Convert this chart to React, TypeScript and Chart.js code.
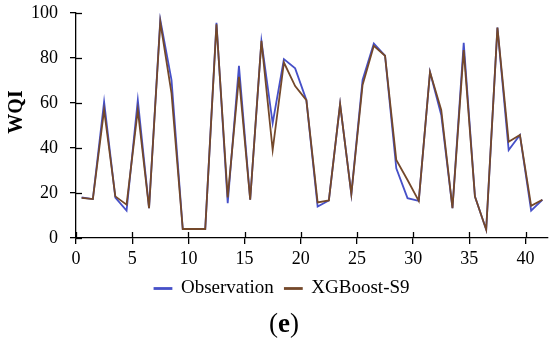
import { useEffect, useRef } from 'react';
import { Chart, registerables } from 'chart.js';

Chart.register(...registerables);

// Sample index positions are plotted at the centre of each unit interval
const observation = [18, 17.3, 60.5, 18, 12.2, 61.3, 13.3, 97, 70.2, 4, 4, 4, 95.6, 15.5, 76.5, 17, 87.6, 51, 79.5, 75.4, 61.3, 14, 16.7, 59.5, 19.5, 70.2, 86.4, 81, 31, 17.7, 16.5, 73.8, 54.7, 13.3, 86.7, 18.4, 3.7, 93.5, 39.1, 45.8, 12.2, 17];
const xgboost = [17.8, 17.3, 56.9, 18.5, 14.8, 56.9, 13.3, 96, 64.3, 4, 4, 4, 95, 18, 71.6, 17, 87.6, 39.1, 78, 67.5, 61.3, 15.8, 16.7, 59.5, 19.5, 68, 85.4, 81, 34.7, 25.8, 16.5, 73.8, 56.9, 13.3, 83.5, 18.4, 3.7, 93.5, 42.8, 45.8, 14.3, 17];
const xTicks = [0, 5, 10, 15, 20, 25, 30, 35, 40];
const yTicks = [0, 20, 40, 60, 80, 100];
const seriesNames = ['Observation', 'XGBoost-S9'];
const yTitle = 'WQI';

const FONT = '"Liberation Serif", "Times New Roman", serif';
const BLUE = '#4650c8';
const BROWN = '#74482a';

const crossTicks = {
  id: 'crossTicks',
  afterDatasetsDraw(chart: any) {
    const { ctx, chartArea, scales } = chart;
    const x = scales.x;
    const y = scales.y;
    ctx.save();
    ctx.strokeStyle = '#000';
    ctx.lineWidth = 1.3;
    x.ticks.forEach((t: any) => {
      const px = Math.round(x.getPixelForValue(t.value)) + 0.5;
      ctx.beginPath();
      ctx.moveTo(px, chartArea.bottom);
      ctx.lineTo(px, chartArea.bottom - 6);
      ctx.stroke();
    });
    y.ticks.forEach((t: any) => {
      const py = Math.round(y.getPixelForValue(t.value)) + 0.5;
      ctx.beginPath();
      ctx.moveTo(chartArea.left, py);
      ctx.lineTo(chartArea.left + 6, py);
      ctx.stroke();
    });
    ctx.restore();
  },
};

const sideTexts = {
  id: 'sideTexts',
  afterDraw(chart: any) {
    const { ctx } = chart;
    ctx.save();
    ctx.fillStyle = '#000';
    // y axis title
    ctx.translate(17, 112);
    ctx.rotate(-Math.PI / 2);
    ctx.font = `bold 20px ${FONT}`;
    ctx.textAlign = 'center';
    ctx.textBaseline = 'middle';
    ctx.fillText(yTitle, 0, 0);
    ctx.restore();

    // caption "(e)"
    ctx.save();
    ctx.fillStyle = '#000';
    ctx.textBaseline = 'middle';
    ctx.textAlign = 'left';
    const normal = `27px ${FONT}`;
    const bold = `bold 27px ${FONT}`;
    ctx.font = normal;
    const wOpen = ctx.measureText('(').width;
    const wClose = ctx.measureText(')').width;
    ctx.font = bold;
    const wE = ctx.measureText('e').width;
    const total = wOpen + wE + wClose;
    let cx = 284 - total / 2;
    const cy = 325;
    ctx.font = normal;
    ctx.fillText('(', cx, cy);
    cx += wOpen;
    ctx.font = bold;
    ctx.fillText('e', cx, cy);
    cx += wE;
    ctx.font = normal;
    ctx.fillText(')', cx, cy);
    ctx.restore();
  },
};

const shiftLegend = {
  id: 'shiftLegend',
  afterLayout(chart: any) {
    const l = chart.legend;
    if (l) {
      l.left += 8;
      l.right += 8;
    }
  },
};

export default function App() {
  const ref = useRef<HTMLCanvasElement | null>(null);

  useEffect(() => {
    if (!ref.current) return;
    const chart = new Chart(ref.current, {
      type: 'line',
      data: {
        datasets: [
          {
            label: seriesNames[0],
            data: observation.map((v, i) => ({ x: i + 0.5, y: v })),
            borderColor: BLUE,
            backgroundColor: BLUE,
            borderWidth: 1.8,
            pointRadius: 0,
            tension: 0,
            order: 2,
          },
          {
            label: seriesNames[1],
            data: xgboost.map((v, i) => ({ x: i + 0.5, y: v })),
            borderColor: BROWN,
            backgroundColor: BROWN,
            borderWidth: 1.8,
            pointRadius: 0,
            tension: 0,
            order: 1,
          },
        ],
      },
      options: {
        responsive: false,
        animation: false,
        devicePixelRatio: 1,
        layout: { padding: { left: 0, right: 2, top: 13, bottom: 40 } },
        plugins: {
          tooltip: { enabled: false },
          legend: {
            position: 'bottom',
            labels: {
              font: { family: FONT, size: 19 },
              color: '#000',
              boxWidth: 17,
              boxHeight: 1,
              padding: 11,
              sort: (a: any, b: any) => a.datasetIndex - b.datasetIndex,
            },
          },
          title: { display: false },
        },
        scales: {
          x: {
            type: 'linear',
            min: 0,
            max: 42,
            afterBuildTicks: (s: any) => {
              s.ticks = xTicks.map((v) => ({ value: v }));
            },
            afterFit: (s: any) => {
              s.height = 30;
              s.paddingLeft = 0;
              s.paddingRight = 0;
            },
            grid: { drawOnChartArea: false, drawTicks: true, tickLength: 6, color: '#000', lineWidth: 1.3 },
            border: { display: true, color: '#000', width: 1.3 },
            ticks: { font: { family: FONT, size: 18 }, color: '#000', padding: 4, maxRotation: 0 },
          },
          y: {
            type: 'linear',
            min: 0,
            max: 100,
            afterBuildTicks: (s: any) => {
              s.ticks = yTicks.map((v) => ({ value: v }));
            },
            afterFit: (s: any) => {
              s.width = 76;
              s.paddingTop = 0;
              s.paddingBottom = 0;
            },
            grid: { drawOnChartArea: false, drawTicks: true, tickLength: 6, color: '#000', lineWidth: 1.3 },
            border: { display: true, color: '#000', width: 1.3 },
            ticks: { font: { family: FONT, size: 18 }, color: '#000', padding: 12 },
          },
        },
      },
      plugins: [crossTicks, sideTexts, shiftLegend],
    });
    return () => chart.destroy();
  }, []);

  return (
    <div style={{ position: 'absolute', left: 0, top: 0, width: 550, height: 348, background: '#fff' }}>
      <canvas ref={ref} width={550} height={348} />
    </div>
  );
}
